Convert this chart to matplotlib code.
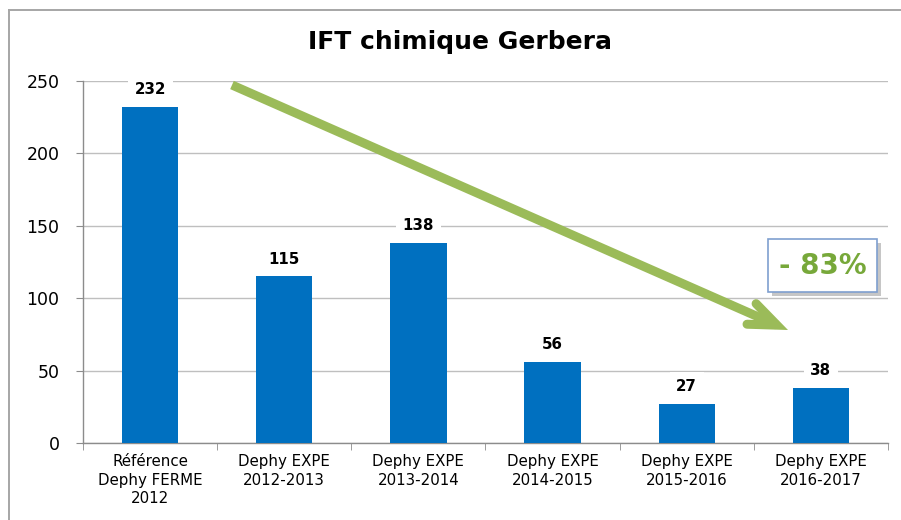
import numpy as np
import matplotlib
matplotlib.use("Agg")
import matplotlib.pyplot as plt
from matplotlib.lines import Line2D
from matplotlib.patches import Rectangle
from matplotlib.transforms import IdentityTransform

categories = ["Référence\nDephy FERME\n2012", "Dephy EXPE\n2012-2013", "Dephy EXPE\n2013-2014",
              "Dephy EXPE\n2014-2015", "Dephy EXPE\n2015-2016", "Dephy EXPE\n2016-2017"]
values = [232, 115, 138, 56, 27, 38]
yticks = [0, 50, 100, 150, 200, 250]
title = "IFT chimique Gerbera"
reduction_label = "- 83%"

plt.rcParams['font.family'] = ['DejaVu Sans']

W, H = 901, 520
fig = plt.figure(figsize=(W / 100, H / 100), dpi=100)
fig.patch.set_facecolor('white')

ax = fig.add_axes([83 / W, 1 - 443 / H, (888 - 83) / W, (443 - 81) / H])
x = np.arange(len(categories))
ax.bar(x, values, width=0.42, color='#0070C0', zorder=3)
ax.set_xlim(-0.5, len(categories) - 0.5)
ax.set_ylim(0, 250)
ax.set_yticks(yticks)
ax.set_yticklabels([str(t) for t in yticks], fontsize=12.5)
ax.set_xticks(x)
ax.set_xticklabels(categories, fontsize=10.8, linespacing=1.3)
ax.set_xticks(np.arange(-0.5, len(categories), 1.0), minor=True)
ax.tick_params(axis='x', which='major', length=0, pad=8)
ax.tick_params(axis='x', which='minor', length=5, color='#8C8C8C', direction='out')
ax.tick_params(axis='y', length=5, color='#8C8C8C', pad=12)
ax.yaxis.grid(True, color='#BFBFBF', linewidth=1, zorder=0)
ax.set_axisbelow(True)
for s in ['top', 'right']:
    ax.spines[s].set_visible(False)
for s in ['left', 'bottom']:
    ax.spines[s].set_color('#8C8C8C')
    ax.spines[s].set_linewidth(1)

for xi, v in zip(x, values):
    ax.annotate(str(v), (xi, v), xytext=(0, 12.5), textcoords='offset points',
                ha='center', va='center', fontsize=10.8, fontweight='bold', zorder=5,
                bbox=dict(boxstyle='square,pad=0.45', facecolor='white', edgecolor='none'))

fig.text(460 / W, 1 - 42 / H, title, ha='center', va='center', fontsize=18, fontweight='bold')

# outer chart frame
ident = IdentityTransform()
fig.add_artist(Line2D([8.5, W], [H - 10, H - 10], color='#A6A6A6', lw=1.4, transform=ident))
fig.add_artist(Line2D([8.5, 8.5], [H - 10, 0], color='#A6A6A6', lw=1.4, transform=ident))

# trend arrow (image pixel coords converted to display)
green = '#9BBB59'
start = np.array([232.0, 85.0])
vtip = np.array([788.0, 330.0])
d = vtip - start
ang = np.arctan2(d[1], d[0])
half = np.deg2rad(22)
lw_px = 9
ctip = vtip - (lw_px / 2) / np.sin(half) * np.array([np.cos(ang), np.sin(ang)])
arm = 30
a1 = ctip - arm * np.array([np.cos(ang - half), np.sin(ang - half)])
a2 = ctip - arm * np.array([np.cos(ang + half), np.sin(ang + half)])
lw_pt = lw_px * 72 / 100
fig.add_artist(Line2D([start[0], ctip[0]], [H - start[1], H - ctip[1]], color=green, lw=lw_pt,
                      solid_capstyle='butt', transform=ident))
fig.add_artist(Line2D([a1[0], ctip[0], a2[0]], [H - a1[1], H - ctip[1], H - a2[1]], color=green,
                      lw=lw_pt, solid_capstyle='round', solid_joinstyle='miter', transform=ident))

# -83% box with shadow
bx0, by0, bx1, by1 = 768, 239, 877, 292
fig.add_artist(Rectangle((bx0 + 4, H - by1 - 4), bx1 - bx0, by1 - by0, facecolor='#B8B8B8',
                         edgecolor='none', transform=ident, alpha=0.8))
fig.add_artist(Rectangle((bx0, H - by1), bx1 - bx0, by1 - by0, facecolor='white',
                         edgecolor='#7F9FCF', lw=1.2, transform=ident))
fig.text((bx0 + bx1) / 2 / W, 1 - (by0 + by1) / 2 / H, reduction_label, ha='center', va='center',
         fontsize=20, fontweight='bold', color='#77A83A')

fig.savefig('out.png', dpi=100)
